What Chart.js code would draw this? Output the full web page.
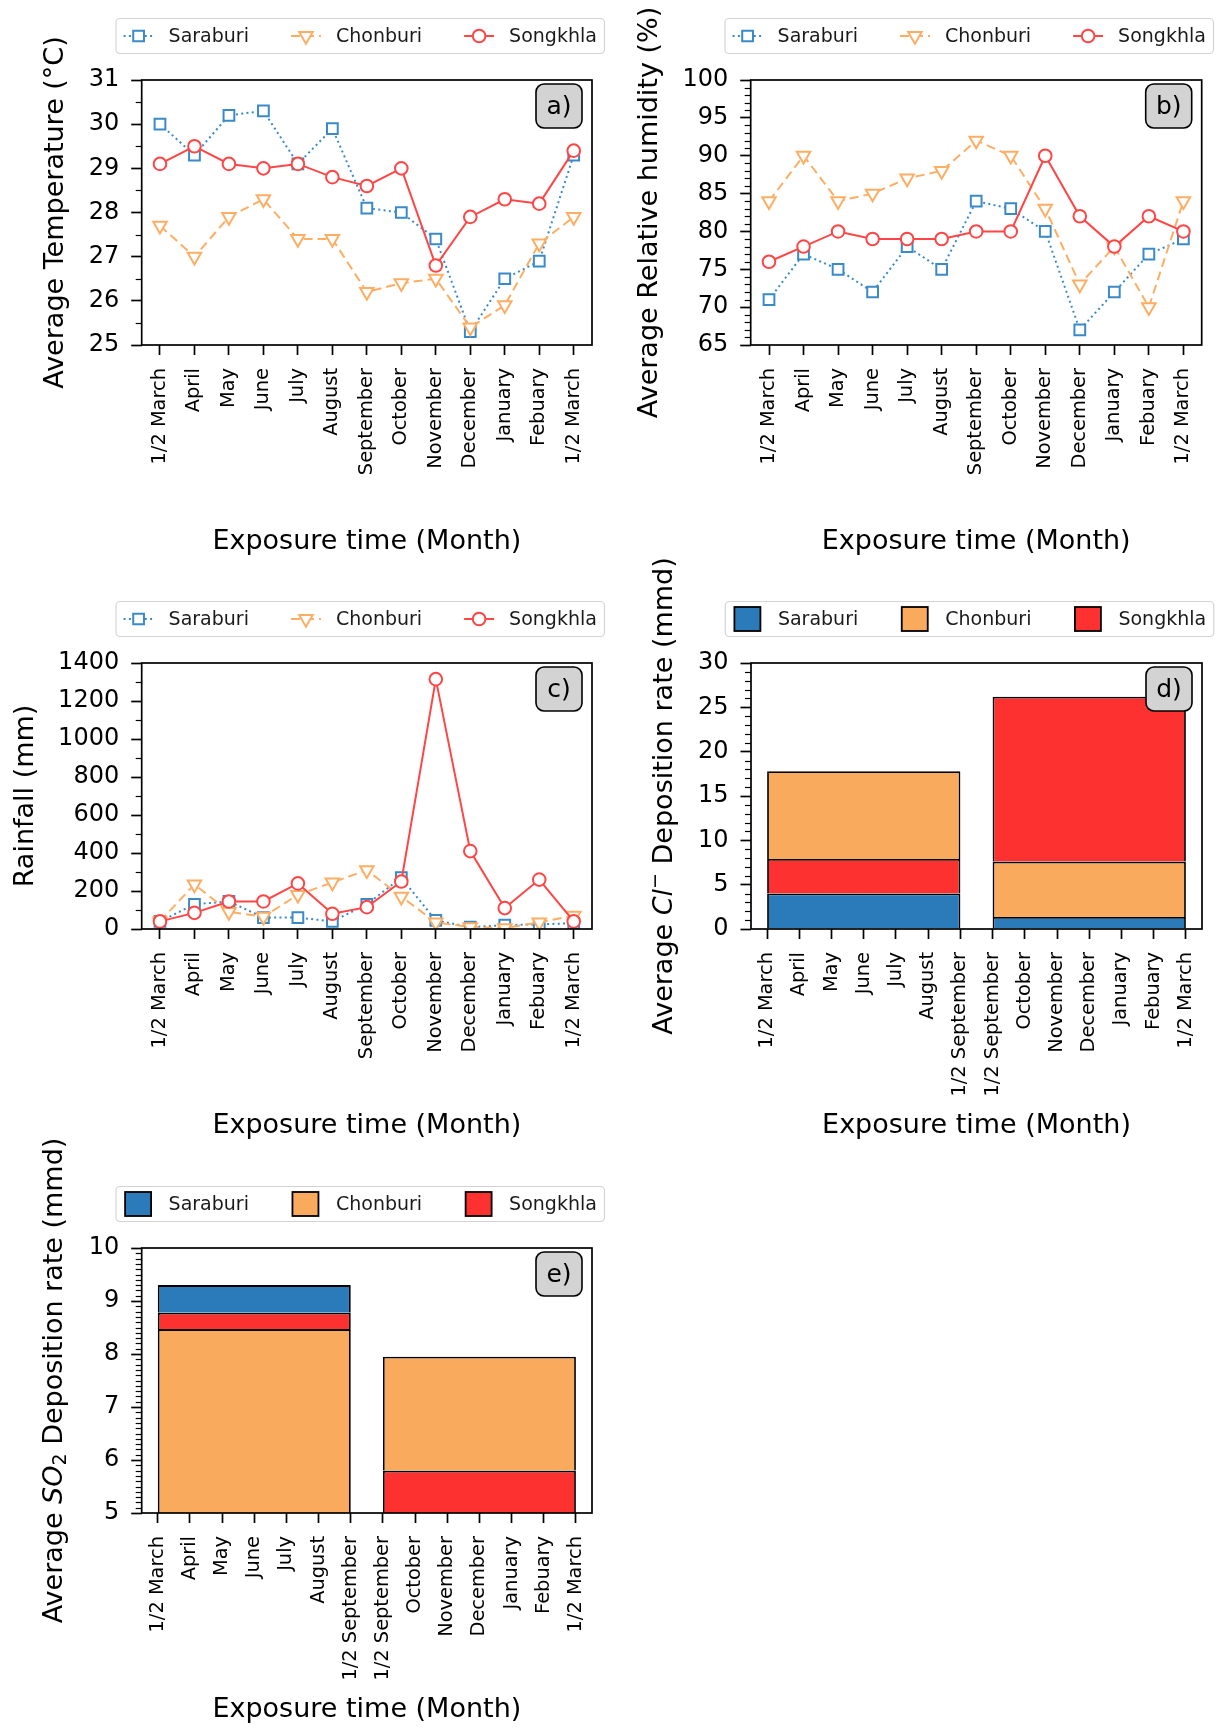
<!DOCTYPE html>
<html><head><meta charset="utf-8">
<script src="https://cdn.jsdelivr.net/npm/chart.js@4.4.1/dist/chart.umd.min.js"></script>
<style>
html,body{margin:0;padding:0;background:#fff;}
body{width:1216px;height:1728px;position:relative;overflow:hidden;}
canvas{position:absolute;}
</style></head><body>
<canvas id="ca"></canvas><canvas id="cb"></canvas><canvas id="cc"></canvas><canvas id="cd"></canvas><canvas id="ce"></canvas>
<script>
// ---------- DATA ----------
const seriesNames = ['Saraburi', 'Chonburi', 'Songkhla'];
const months = ['1/2 March','April','May','June','July','August','September','October','November','December','January','Febuary','1/2 March'];
const periodMonths = ['1/2 March','April','May','June','July','August','1/2 September','1/2 September','October','November','December','January','Febuary','1/2 March'];

const tempSaraburi = [30.0, 29.3, 30.2, 30.3, 29.1, 29.9, 28.1, 28.0, 27.4, 25.3, 26.5, 26.9, 29.3];
const tempChonburi = [27.7, 27.0, 27.9, 28.3, 27.4, 27.4, 26.2, 26.4, 26.5, 25.4, 25.9, 27.3, 27.9];
const tempSongkhla = [29.1, 29.5, 29.1, 29.0, 29.1, 28.8, 28.6, 29.0, 26.8, 27.9, 28.3, 28.2, 29.4];

const rhSaraburi = [71, 77, 75, 72, 78, 75, 84, 83, 80, 67, 72, 77, 79];
const rhChonburi = [84, 90, 84, 85, 87, 88, 92, 90, 83, 73, 78, 70, 84];
const rhSongkhla = [76, 78, 80, 79, 79, 79, 80, 80, 90, 82, 78, 82, 80];

const rainSaraburi = [40, 130, 145, 60, 60, 40, 130, 270, 45, 10, 20, 25, 30];
const rainChonburi = [40, 235, 90, 65, 180, 245, 310, 170, 35, 10, 5, 35, 70];
const rainSongkhla = [40, 85, 145, 145, 240, 80, 115, 250, 1315, 410, 110, 260, 40];

// exposure periods (tick index where each period starts / ends)
const periodStart = [0, 7];
const periodEnd = [6, 13];
const clSaraburi = [4.0, 1.35];
const clChonburi = [17.8, 7.6];
const clSongkhla = [7.9, 26.2];
const so2Saraburi = [9.3, 4.6];
const so2Chonburi = [8.47, 7.95];
const so2Songkhla = [8.78, 5.8];

const tempTicks = [25, 26, 27, 28, 29, 30, 31];
const rhTicks = [65, 70, 75, 80, 85, 90, 95, 100];
const rainTicks = [0, 200, 400, 600, 800, 1000, 1200, 1400];
const clTicks = [0, 5, 10, 15, 20, 25, 30];
const so2Ticks = [5, 6, 7, 8, 9, 10];

// ---------- STYLE ----------
const FONT = "'DejaVu Sans', 'Liberation Sans', sans-serif";
const LINE_STYLES = [
  {color: '#3a8ac8', dash: [2, 3.3], point: 'rect', radius: 7.6, rotation: 0},
  {color: '#fdae64', dash: [9, 5], point: 'triangle', radius: 7.8, rotation: 180},
  {color: '#ff4545', dash: [], point: 'circle', radius: 6.3, rotation: 0}
];
const BAR_COLORS = ['#2b7bba', '#f9aa5c', '#fe3131'];

function lineSets(list) {
  return list.map((vals, k) => {
    const s = LINE_STYLES[k];
    return {
      label: seriesNames[k],
      data: vals.map((v, i) => ({x: i, y: v})),
      borderColor: s.color, borderWidth: 2, borderDash: s.dash, tension: 0, fill: false,
      pointStyle: s.point, pointRadius: s.radius, pointRotation: s.rotation,
      pointBorderColor: s.color, pointBackgroundColor: '#ffffff', pointBorderWidth: 2,
      order: 3 - k
    };
  });
}

function barSets(list) {
  const centers = periodStart.map((s, p) => (s + periodEnd[p]) / 2);
  const span = periodEnd[0] - periodStart[0];
  return list.map((vals, k) => ({
    label: seriesNames[k],
    data: vals.map((v, p) => {
      const others = list.map(a => a[p]).filter(u => u < v);
      return {x: centers[p], y: [Math.max(0, ...others), v]};
    }),
    backgroundColor: BAR_COLORS[k], borderColor: '#000', borderWidth: 1.8,
    borderSkipped: 'start', grouped: false,
    categoryPercentage: span, barPercentage: 1
  }));
}

function drawMarker(ctx, ds, x, y) {
  const r = ds.pointRadius;
  ctx.beginPath();
  if (ds.pointStyle === 'rect') {
    const s = Math.SQRT1_2 * r; ctx.rect(x - s, y - s, 2 * s, 2 * s);
  } else if (ds.pointStyle === 'triangle') {
    let rad = (ds.pointRotation || 0) * Math.PI / 180;
    ctx.moveTo(x + Math.sin(rad) * r, y - Math.cos(rad) * r);
    rad += 2 * Math.PI / 3; ctx.lineTo(x + Math.sin(rad) * r, y - Math.cos(rad) * r);
    rad += 2 * Math.PI / 3; ctx.lineTo(x + Math.sin(rad) * r, y - Math.cos(rad) * r);
    ctx.closePath();
  } else {
    ctx.arc(x, y, r, 0, 2 * Math.PI);
  }
  ctx.fillStyle = ds.pointBackgroundColor; ctx.fill();
  ctx.lineWidth = ds.pointBorderWidth; ctx.strokeStyle = ds.pointBorderColor; ctx.setLineDash([]); ctx.stroke();
}

function rrect(ctx, x, y, w, h, r) {
  ctx.beginPath();
  ctx.moveTo(x + r, y); ctx.lineTo(x + w - r, y); ctx.arcTo(x + w, y, x + w, y + r, r);
  ctx.lineTo(x + w, y + h - r); ctx.arcTo(x + w, y + h, x + w - r, y + h, r);
  ctx.lineTo(x + r, y + h); ctx.arcTo(x, y + h, x, y + h - r, r);
  ctx.lineTo(x, y + r); ctx.arcTo(x, y, x + r, y, r); ctx.closePath();
}

function build(cfg) {
  const [cl, ct, cw, ch] = cfg.canvas;
  const [L, T, R, B] = cfg.area;
  const cv = document.getElementById(cfg.id);
  cv.width = cw; cv.height = ch;
  cv.style.left = cl + 'px'; cv.style.top = ct + 'px'; cv.style.width = cw + 'px'; cv.style.height = ch + 'px';
  const XH = 214;
  const yW = L - cl;
  const titleFont = {family: FONT, size: 27};

  const decor = {
    id: 'decor_' + cfg.id,
    afterDatasetsDraw(chart) {
      const ctx = chart.ctx, a = chart.chartArea, ys = chart.scales.y;
      ctx.save();
      ctx.setLineDash([]);
      ctx.strokeStyle = '#000'; ctx.lineWidth = 1.2;
      const t0 = cfg.yTicks[0], t1 = cfg.yTicks[cfg.yTicks.length - 1];
      const n = Math.round((t1 - t0) / cfg.minor);
      for (let i = 0; i <= n; i++) {
        const v = t0 + i * cfg.minor;
        if (cfg.yTicks.some(t => Math.abs(t - v) < 1e-6)) continue;
        const y = Math.round(ys.getPixelForValue(v)) + 0.5;
        ctx.beginPath(); ctx.moveTo(a.left - 6, y); ctx.lineTo(a.left, y); ctx.stroke();
      }
      ctx.lineWidth = 1.7;
      ctx.strokeRect(a.left, a.top, a.right - a.left, a.bottom - a.top);
      // panel label
      const bw = 46, bh = 44, bx = a.right - 10 - bw, by = a.top + 4;
      rrect(ctx, bx, by, bw, bh, 8);
      ctx.fillStyle = '#d3d3d3'; ctx.fill();
      ctx.lineWidth = 1.6; ctx.strokeStyle = '#000'; ctx.stroke();
      ctx.fillStyle = '#000'; ctx.font = '25px ' + FONT; ctx.textAlign = 'center'; ctx.textBaseline = 'middle';
      ctx.fillText(cfg.panel, bx + bw / 2, by + bh / 2 + 1);
      ctx.restore();
    },
    afterDraw(chart) {
      const ctx = chart.ctx, a = chart.chartArea;
      ctx.save();
      // legend
      const sets = chart.data.datasets;
      ctx.font = '19px ' + FONT;
      const pad = 7.6, handle = 30, textPad = 15, colSpace = 42, h = 35;
      const widths = sets.map(d => ctx.measureText(d.label).width);
      let w = pad * 2 + colSpace * (sets.length - 1);
      widths.forEach(t => { w += handle + textPad + t; });
      const x0 = a.left - 25.7, y0 = a.top - 61.5;
      rrect(ctx, x0, y0, w, h, 4);
      ctx.fillStyle = 'rgba(255,255,255,0.85)'; ctx.fill();
      ctx.lineWidth = 1.2; ctx.strokeStyle = '#d4d4d4'; ctx.stroke();
      const cy = y0 + h / 2;
      let x = x0 + pad;
      sets.forEach((d, i) => {
        if (cfg.kind === 'line') {
          ctx.strokeStyle = d.borderColor; ctx.lineWidth = d.borderWidth;
          ctx.setLineDash(d.borderDash || []);
          ctx.beginPath(); ctx.moveTo(x, cy); ctx.lineTo(x + handle, cy); ctx.stroke();
          ctx.setLineDash([]);
          drawMarker(ctx, d, x + handle / 2, cy);
        } else {
          ctx.fillStyle = d.backgroundColor;
          ctx.fillRect(x + 1.5, cy - 12, 26, 24);
          ctx.lineWidth = 1.8; ctx.strokeStyle = '#000'; ctx.setLineDash([]);
          ctx.strokeRect(x + 1.5, cy - 12, 26, 24);
        }
        ctx.fillStyle = '#1a1a1a'; ctx.font = '19px ' + FONT; ctx.textAlign = 'left'; ctx.textBaseline = 'middle';
        ctx.fillText(d.label, x + handle + textPad, cy + 1);
        x += handle + textPad + widths[i] + colSpace;
      });
      // rich y title
      if (cfg.richTitle) {
        ctx.save();
        ctx.translate(cfg.yTitleX - cl, (a.top + a.bottom) / 2);
        ctx.rotate(-Math.PI / 2);
        ctx.textAlign = 'left'; ctx.textBaseline = 'middle'; ctx.fillStyle = '#000';
        const segs = cfg.richTitle.map(s => {
          const f = (s.italic ? 'italic ' : '') + (s.size || 27) + 'px ' + FONT;
          ctx.font = f;
          return {text: s.text, f, dy: s.dy || 0, w: ctx.measureText(s.text).width};
        });
        const total = segs.reduce((q, s) => q + s.w, 0);
        let tx = -total / 2;
        segs.forEach(s => { ctx.font = s.f; ctx.fillText(s.text, tx, s.dy); tx += s.w; });
        ctx.restore();
      }
      ctx.restore();
    }
  };

  return new Chart(cv, {
    type: cfg.kind,
    data: {datasets: cfg.datasets},
    options: {
      responsive: false, animation: false, devicePixelRatio: 1,
      layout: {padding: {left: 0, top: T - ct, right: cl + cw - R, bottom: ct + ch - B - XH}},
      plugins: {legend: {display: false}, tooltip: {enabled: false}},
      scales: {
        x: {
          type: 'linear', min: -cfg.xPad, max: cfg.xLabels.length - 1 + cfg.xPad, offset: false,
          afterBuildTicks: ax => { ax.ticks = cfg.xLabels.map((_, i) => ({value: i})); },
          afterFit: ax => { ax.height = XH; ax.paddingLeft = 0; ax.paddingRight = 0; },
          ticks: {autoSkip: false, minRotation: 90, maxRotation: 90, padding: 13, color: '#000',
                  font: {family: FONT, size: 19.4}, callback: v => cfg.xLabels[Math.round(v)]},
          grid: {display: true, drawOnChartArea: false, drawTicks: true, tickLength: 10, tickWidth: 1.7, tickColor: '#000', offset: false},
          border: {display: false},
          title: {display: true, text: 'Exposure time (Month)', color: '#000', font: titleFont, padding: {top: 0, bottom: 0.8}}
        },
        y: {
          type: 'linear', min: cfg.yTicks[0], max: cfg.yTicks[cfg.yTicks.length - 1],
          afterBuildTicks: ax => { ax.ticks = cfg.yTicks.map(v => ({value: v})); },
          afterFit: ax => { ax.width = yW; ax.paddingTop = 0; ax.paddingBottom = 0; },
          ticks: {padding: 12, color: '#000', font: {family: FONT, size: 24}, callback: v => String(v)},
          grid: {display: true, drawOnChartArea: false, drawTicks: true, tickLength: 10.5, tickWidth: 1.7, tickColor: '#000'},
          border: {display: false},
          title: cfg.richTitle ? {display: false} :
            {display: true, text: cfg.yTitle, color: '#000', font: titleFont,
             padding: {top: cfg.yTitleX - cl - 16.2, bottom: 0}}
        }
      }
    },
    plugins: [decor]
  });
}

Chart.defaults.font.family = FONT;

build({id: 'ca', kind: 'line', canvas: [0, 0, 612, 580], area: [141.7, 80, 592, 345],
  datasets: lineSets([tempSaraburi, tempChonburi, tempSongkhla]), xLabels: months, xPad: 0.53,
  yTicks: tempTicks, minor: 0.5, yTitle: 'Average Temperature (°C)', yTitleX: 56, panel: 'a)'});

build({id: 'cb', kind: 'line', canvas: [612, 0, 604, 580], area: [750.7, 80, 1201.7, 345],
  datasets: lineSets([rhSaraburi, rhChonburi, rhSongkhla]), xLabels: months, xPad: 0.53,
  yTicks: rhTicks, minor: 1, yTitle: 'Average Relative humidity (%)', yTitleX: 650, panel: 'b)'});

build({id: 'cc', kind: 'line', canvas: [0, 580, 612, 580], area: [141.7, 663, 592, 929],
  datasets: lineSets([rainSaraburi, rainChonburi, rainSongkhla]), xLabels: months, xPad: 0.53,
  yTicks: rainTicks, minor: 100, yTitle: 'Rainfall (mm)', yTitleX: 26, panel: 'c)'});

build({id: 'cd', kind: 'bar', canvas: [612, 540, 604, 620], area: [751, 663, 1202, 929],
  datasets: barSets([clSaraburi, clChonburi, clSongkhla]), xLabels: periodMonths, xPad: 0.5,
  yTicks: clTicks, minor: 1, yTitleX: 665, panel: 'd)',
  richTitle: [{text: 'Average '}, {text: 'Cl', italic: true}, {text: '\u2212', size: 19, dy: -9}, {text: ' Deposition rate (mmd)'}]});

build({id: 'ce', kind: 'bar', canvas: [0, 1110, 612, 618], area: [141.7, 1248, 592, 1513],
  datasets: barSets([so2Saraburi, so2Chonburi, so2Songkhla]), xLabels: periodMonths, xPad: 0.5,
  yTicks: so2Ticks, minor: 0.1, yTitleX: 55, panel: 'e)',
  richTitle: [{text: 'Average '}, {text: 'SO', italic: true}, {text: '2', size: 19, dy: 6}, {text: ' Deposition rate (mmd)'}]});
</script>
</body></html>
